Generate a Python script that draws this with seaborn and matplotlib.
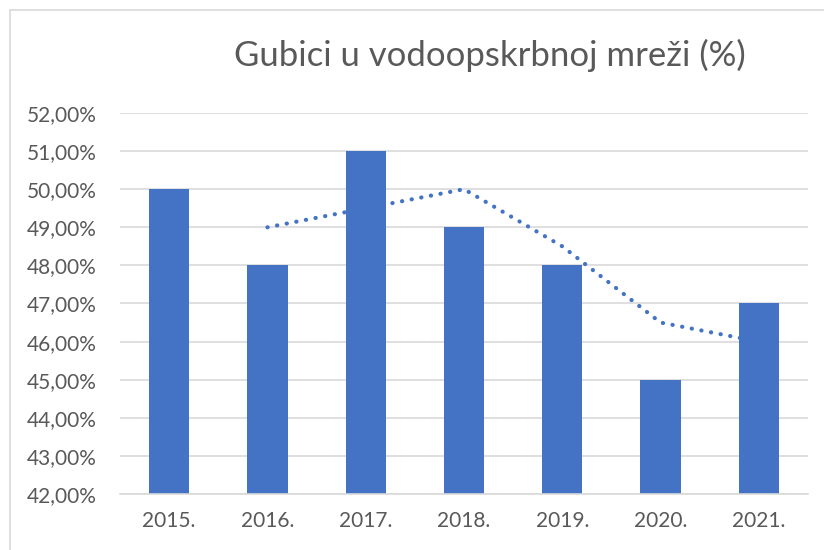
import matplotlib
matplotlib.use("Agg")
import matplotlib.pyplot as plt
import seaborn as sns
import pandas as pd
from matplotlib.ticker import FuncFormatter, MultipleLocator
from matplotlib.patches import Rectangle

years = ["2015.", "2016.", "2017.", "2018.", "2019.", "2020.", "2021."]
losses = [50, 48, 51, 49, 48, 45, 47]
trend_years = ["2016.", "2017.", "2018.", "2019.", "2020.", "2021."]
trend_values = [49, 49.5, 50, 48.5, 46.5, 46]
title = "Gubici u vodoopskrbnoj mreži (%)"

sns.set_theme(style="white")
plt.rcParams['font.family'] = ['Lato', 'DejaVu Sans']

fig = plt.figure(figsize=(8.24, 5.5), dpi=100)
ax = fig.add_axes([120/824, 1-494/550, (808-120)/824, (494-113)/550])

df = pd.DataFrame({"year": years, "loss": losses})
sns.barplot(data=df, x="year", y="loss", color="#4472C4", saturation=1,
            width=0.41, ax=ax, zorder=3, edgecolor="none", linewidth=0)

pos = [years.index(y) for y in trend_years]
ax.plot(pos, trend_values, linestyle=(0, (0.05, 2.3)), dash_capstyle="round",
        color="#4472C4", linewidth=3.0, zorder=2)

ax.set_ylim(42, 52)
ax.set_xlim(-0.5, 6.5)
ax.yaxis.set_major_locator(MultipleLocator(1))
ax.yaxis.set_major_formatter(FuncFormatter(lambda v, p: f"{v:.2f}".replace(".", ",") + "%"))
ax.grid(axis="y", color="#d9d9d9", linewidth=1.2, zorder=0)
ax.set_axisbelow(True)
for s in ["top", "right", "left"]:
    ax.spines[s].set_visible(False)
ax.spines["bottom"].set_color("#d9d9d9")
ax.spines["bottom"].set_linewidth(1.2)
ax.spines["bottom"].set_zorder(4)
ax.tick_params(axis="both", length=0, labelsize=15, colors="#595959")
ax.tick_params(axis="x", pad=12)
ax.tick_params(axis="y", pad=17)
ax.set_xlabel("")
ax.set_ylabel("")

fig.text(490/824, 1-55/550, title, ha="center", va="center", fontsize=25, color="#595959")

fig.patches.append(Rectangle((10/824, -0.1), 1.2, 1-10/550+0.1, transform=fig.transFigure,
                             fill=False, edgecolor="#d9d9d9", linewidth=1.2))

fig.savefig("out.png", dpi=100)
